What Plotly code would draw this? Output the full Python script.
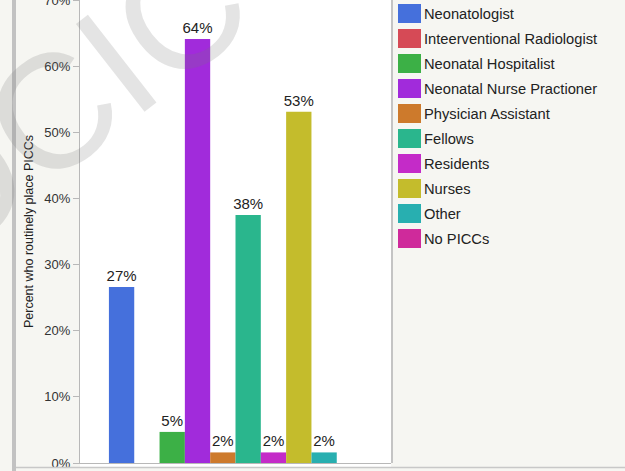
import plotly.graph_objects as go

# data (percent of respondents)
roles = ["Neonatologist", "Inteerventional Radiologist", "Neonatal Hospitalist",
         "Neonatal Nurse Practioner", "Physician Assistant", "Fellows",
         "Residents", "Nurses", "Other", "No PICCs"]
percent = [26.6, 0, 4.7, 64.1, 1.6, 37.5, 1.6, 53.1, 1.6, 0]
labels = ["27%", "", "5%", "64%", "2%", "38%", "2%", "53%", "2%", ""]
colors = ["#4570DC", "#D64A56", "#3CB046", "#A12BDB", "#CD7A2C",
          "#2AB68D", "#C42BC8", "#C4BC2C", "#28AFB0", "#CF2A9B"]
y_ticks = [0, 10, 20, 30, 40, 50, 60, 70]
y_tick_text = ["0%", "10%", "20%", "30%", "40%", "50%", "60%", "70%"]

W, H = 625, 471
PL, PR, PT, PB = 80, 391, 0, 463   # plot area in pixels
FONT = "Liberation Sans, Arial, Helvetica, sans-serif"


def px_x(x):
    return (x - PL) / (PR - PL)


def px_y(y):
    return (PB - y) / (PB - PT)


fig = go.Figure()
for name, val, lab, col in zip(roles, percent, labels, colors):
    fig.add_trace(go.Bar(
        x=["PICC"], y=[val], name=name, marker=dict(color=col, line=dict(width=0)),
        text=[lab], textposition="outside", cliponaxis=False, constraintext="none",
        textfont=dict(size=15, color="#222222", family=FONT),
        showlegend=False,
    ))

shapes = [
    # white strip under the axis
    dict(type="rect", xref="paper", yref="paper", x0=0, x1=1, y0=px_y(467), y1=0,
         fillcolor="white", line_width=0, layer="below"),
    # left frame bar
    dict(type="rect", xref="paper", yref="paper", x0=px_x(12), x1=px_x(16), y0=px_y(471), y1=1,
         fillcolor="#c2c2c2", line_width=0, layer="above"),
    # bottom frame line
    dict(type="line", xref="paper", yref="paper", x0=px_x(16), x1=px_x(625), y0=px_y(467.5), y1=px_y(467.5),
         line=dict(color="#c8c8c8", width=1.5), layer="above"),
    # legend border
    dict(type="line", xref="paper", yref="paper", x0=px_x(392), x1=px_x(392), y0=0, y1=1,
         line=dict(color="#c4c4c4", width=2), layer="above"),
]

annotations = [
    # faint watermark
    dict(text="OCIC", x=px_x(66), y=px_y(102), xref="paper", yref="paper",
         xanchor="center", yanchor="middle", showarrow=False, textangle=-38,
         font=dict(size=162, color="rgba(120,120,120,0.2)", family=FONT)),
]

# hand-drawn legend
for i, (name, col) in enumerate(zip(roles, colors)):
    top = 4 + 25 * i
    shapes.append(dict(type="rect", xref="paper", yref="paper",
                       x0=px_x(398), x1=px_x(421), y0=px_y(top + 19), y1=px_y(top),
                       fillcolor=col, line_width=0))
    annotations.append(dict(text=name, x=px_x(422), y=px_y(top + 10), xref="paper", yref="paper",
                            xanchor="left", yanchor="middle", showarrow=False,
                            font=dict(size=14.7, color="#222222", family=FONT)))

fig.update_layout(
    width=W, height=H,
    margin=dict(l=PL, r=W - PR, t=PT, b=H - PB, autoexpand=False),
    paper_bgcolor="#f6f6f2", plot_bgcolor="white",
    barmode="group", bargap=0.186, bargroupgap=0,
    font=dict(family=FONT, color="#333333"),
    shapes=shapes, annotations=annotations,
    xaxis=dict(showticklabels=False, ticks="", showgrid=False, zeroline=False, automargin=False,
               showline=True, linecolor="#b8b8b8", linewidth=1),
    yaxis=dict(range=[0, 70], tickvals=y_ticks, ticktext=y_tick_text, showgrid=False, zeroline=False,
               showline=True, linecolor="#b8b8b8", linewidth=1, ticklabeloverflow="allow",
               automargin=False,
               ticks="outside", ticklen=6, tickcolor="#b8b8b8",
               tickfont=dict(size=13, color="#333333"),
               title=dict(text="Percent who routinely place PICCs", standoff=7,
                          font=dict(size=12.5, color="#222222"))),
)

fig.write_html("out.html", config={"displayModeBar": False},
               post_script="document.body.style.margin='0';")
